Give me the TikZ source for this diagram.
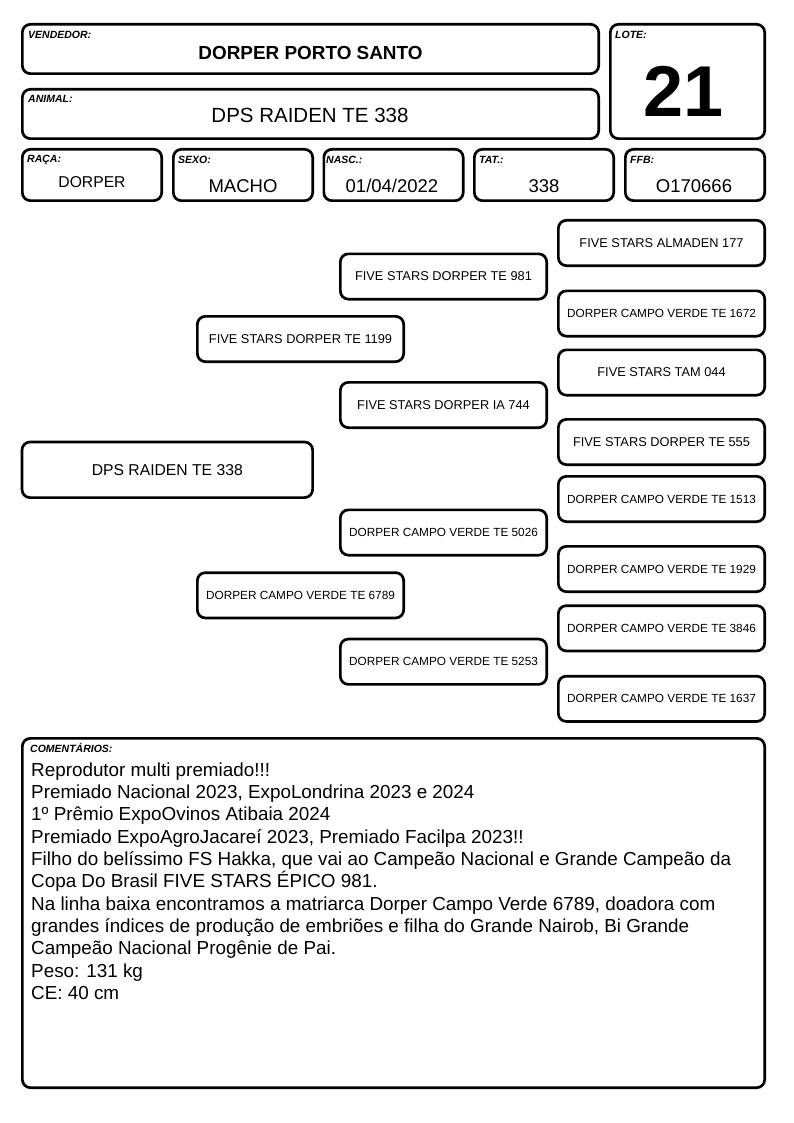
\documentclass[tikz,border=0pt]{standalone}
\usepackage{fontspec}
\setmainfont{Liberation Sans}
\begin{document}
\begin{tikzpicture}[x=1pt,y=-1pt,
  box/.style={draw=black, line width=2.7pt, rounded corners=8pt, inner sep=0pt, align=center},
  lbl/.style={anchor=west, inner sep=0pt, font=\fontsize{10.5}{12}\selectfont\bfseries\itshape},
  val/.style={inner sep=0pt, font=\fontsize{18.5}{22}\selectfont},
  ped/.style={box, minimum width=206.3pt, minimum height=45.3pt},
  fs/.style={font=\fontsize{12.8}{15}\selectfont},
  dcv/.style={font=\fontsize{11.8}{14}\selectfont},
]
\useasboundingbox[fill=white] (0,0) rectangle (794,1123);

% header boxes
\node[box, minimum width=576.3pt, minimum height=49.3pt] (vend) at (310.5,49) {};
\node[box, minimum width=576.3pt, minimum height=49.3pt] (anim) at (310.5,114) {};
\node[box, minimum width=154.3pt, minimum height=114.3pt] (lote) at (687.5,81.5) {};
\node[box, minimum width=139.3pt, minimum height=51.3pt] (raca) at (92,175) {};
\node[box, minimum width=139.3pt, minimum height=51.3pt] (sexo) at (243,175) {};
\node[box, minimum width=139.3pt, minimum height=51.3pt] (nasc) at (393.5,175) {};
\node[box, minimum width=139.3pt, minimum height=51.3pt] (tat) at (544,175) {};
\node[box, minimum width=139.3pt, minimum height=51.3pt] (ffb) at (695,175) {};

\node[lbl] (lvend) at (28,35) {VENDEDOR:};
\node[lbl] (lanim) at (28,99) {ANIMAL:};
\node[lbl] (llote) at (615,35) {LOTE:};
\node[lbl] (lraca) at (27,160) {RAÇA:};
\node[lbl] (lsexo) at (178,160) {SEXO:};
\node[lbl] (lnasc) at (326,160) {NASC.:};
\node[lbl] (ltat) at (479,160) {TAT.:};
\node[lbl] (lffb) at (630,160) {FFB:};

\node[inner sep=0pt, font=\fontsize{18.9}{22}\selectfont\bfseries] (tvend) at (310.5,53) {DORPER PORTO SANTO};
\node[inner sep=0pt, font=\fontsize{20.5}{24}\selectfont] (tanim) at (310,115) {DPS RAIDEN TE 338};
\node[inner sep=0pt, font=\fontsize{72}{80}\selectfont\bfseries] (tlote) at (684,91) {21};
\node[inner sep=0pt, font=\fontsize{15.7}{18}\selectfont] (traca) at (92,182) {DORPER};
\node[val] (tsexo) at (243,186) {MACHO};
\node[val] (tnasc) at (392,186) {01/04/2022};
\node[val] (ttat) at (544,186) {338};
\node[val] (tffb) at (694,186) {O170666};

% pedigree
\node[box, minimum width=290.6pt, minimum height=55.6pt, font=\fontsize{15.7}{18}\selectfont] (raiden) at (167.3,469.8) {DPS RAIDEN TE 338};

\node[ped, fs] (p1199) at (300.5,339) {FIVE STARS DORPER TE 1199};
\node[ped, dcv] (p6789) at (300.5,595.3) {DORPER CAMPO VERDE TE 6789};

\node[ped, fs] (p981) at (443.5,276.5) {FIVE STARS DORPER TE 981};
\node[ped, fs] (p744) at (443.5,405) {FIVE STARS DORPER IA 744};
\node[ped, dcv] (p5026) at (443.5,532.5) {DORPER CAMPO VERDE TE 5026};
\node[ped, dcv] (p5253) at (443.5,661.7) {DORPER CAMPO VERDE TE 5253};

\node[ped, fs] (p177) at (661.5,243) {FIVE STARS ALMADEN 177};
\node[ped, dcv] (p1672) at (661.5,313.5) {DORPER CAMPO VERDE TE 1672};
\node[ped, fs] (p044) at (661.5,372.5) {FIVE STARS TAM 044};
\node[ped, fs] (p555) at (661.5,442) {FIVE STARS DORPER TE 555};
\node[ped, dcv] (p1513) at (661.5,499) {DORPER CAMPO VERDE TE 1513};
\node[ped, dcv] (p1929) at (661.5,569) {DORPER CAMPO VERDE TE 1929};
\node[ped, dcv] (p3846) at (661.5,628.3) {DORPER CAMPO VERDE TE 3846};
\node[ped, dcv] (p1637) at (661.5,698.8) {DORPER CAMPO VERDE TE 1637};

% comments
\node[box, minimum width=742.3pt, minimum height=349.3pt] (com) at (393.5,913) {};
\node[lbl] (lcom) at (30,748) {COMENTÁRIOS:};
\node[anchor=north west, inner sep=0pt, align=left, font=\fontsize{18.85}{22.3}\selectfont] (tcom) at (31,762.5) {Reprodutor multi premiado!!!\\
Premiado Nacional 2023, ExpoLondrina 2023 e 2024\\
1º Prêmio ExpoOvinos Atibaia 2024\\
Premiado ExpoAgroJacareí 2023, Premiado Facilpa 2023!!\\
Filho do belíssimo FS Hakka, que vai ao Campeão Nacional e Grande Campeão da\\
Copa Do Brasil FIVE STARS ÉPICO 981.\\
Na linha baixa encontramos a matriarca Dorper Campo Verde 6789, doadora com\\
grandes índices de produção de embriões e filha do Grande Nairob, Bi Grande\\
Campeão Nacional Progênie de Pai.\\
Peso: 131 kg\\
CE: 40 cm};
\end{tikzpicture}
\end{document}
